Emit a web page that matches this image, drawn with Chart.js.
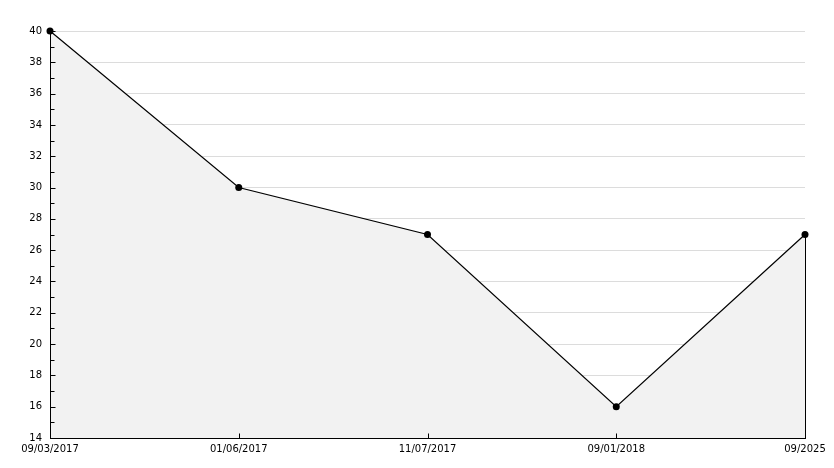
<!DOCTYPE html>
<html>
<head>
<meta charset="utf-8">
<script src="https://cdn.jsdelivr.net/npm/chart.js@4/dist/chart.umd.min.js"></script>
<style>
  html, body { margin: 0; padding: 0; background: #fff; }
  #wrap { width: 834px; height: 468px; }
</style>
</head>
<body>
<div id="wrap"><canvas id="lineChart"></canvas></div>
<script>
Chart.defaults.font.family = "'DejaVu Sans', sans-serif";
Chart.defaults.font.size = 10;
Chart.defaults.color = '#000';

const dateLabels = ['09/03/2017', '01/06/2017', '11/07/2017', '09/01/2018', '09/2025'];
const values = [40, 30, 27, 16, 27];
const yMin = 14, yMax = 40, yStep = 2;

// axis lines over the fill, small inward ticks, and the closing edge of the filled area
const innerTicks = {
    id: 'innerTicks',
    afterDatasetsDraw(chart) {
        const { ctx, scales: { x, y } } = chart;
        const ax = Math.round(x.left) + 0.5;
        const ay = Math.round(y.bottom) + 0.5;
        ctx.save();
        ctx.strokeStyle = '#000';
        ctx.lineWidth = 1;
        ctx.beginPath();
        ctx.moveTo(ax, y.top);
        ctx.lineTo(ax, ay);
        ctx.lineTo(x.right, ay);
        for (let v = yMin; v <= yMax; v++) {
            const py = Math.round(y.getPixelForValue(v)) + 0.5;
            const len = v % 2 === 0 ? 5 : 4;
            ctx.moveTo(ax, py);
            ctx.lineTo(ax + len, py);
        }
        dateLabels.forEach((_, i) => {
            const px = Math.round(x.getPixelForValue(i)) + 0.5;
            ctx.moveTo(px, ay);
            ctx.lineTo(px, ay - 5);
        });
        const last = values.length - 1;
        const lx = Math.round(x.getPixelForValue(last)) + 0.5;
        ctx.moveTo(lx, y.getPixelForValue(values[last]));
        ctx.lineTo(lx, ay);
        ctx.stroke();
        ctx.restore();
    }
};

new Chart(document.getElementById('lineChart').getContext('2d'), {
    type: 'line',
    data: {
        labels: dateLabels,
        datasets: [{
            data: values,
            borderColor: '#000',
            borderWidth: 1.2,
            backgroundColor: '#f2f2f2',
            fill: 'start',
            tension: 0,
            clip: false,
            pointRadius: 3.5,
            pointBackgroundColor: '#000',
            pointBorderColor: '#000',
            pointBorderWidth: 0
        }]
    },
    options: {
        responsive: true, maintainAspectRatio: false, animation: false,
        layout: { padding: { top: 31, right: 29, left: 0, bottom: 0 } },
        plugins: { legend: { display: false }, tooltip: { enabled: false } },
        scales: {
            x: {
                offset: false,
                grid: { display: false, drawTicks: false },
                border: { color: '#000', width: 1 },
                ticks: { padding: 5, maxRotation: 0, autoSkip: false, color: '#000' },
                afterFit(scale) { scale.height = 30; }
            },
            y: {
                min: yMin, max: yMax,
                grid: { color: '#dcdcdc', drawTicks: false },
                border: { color: '#000', width: 1 },
                ticks: { stepSize: yStep, padding: 8, color: '#000' },
                afterFit(scale) { scale.width = 50; }
            }
        }
    },
    plugins: [innerTicks]
});
</script>
</body>
</html>
